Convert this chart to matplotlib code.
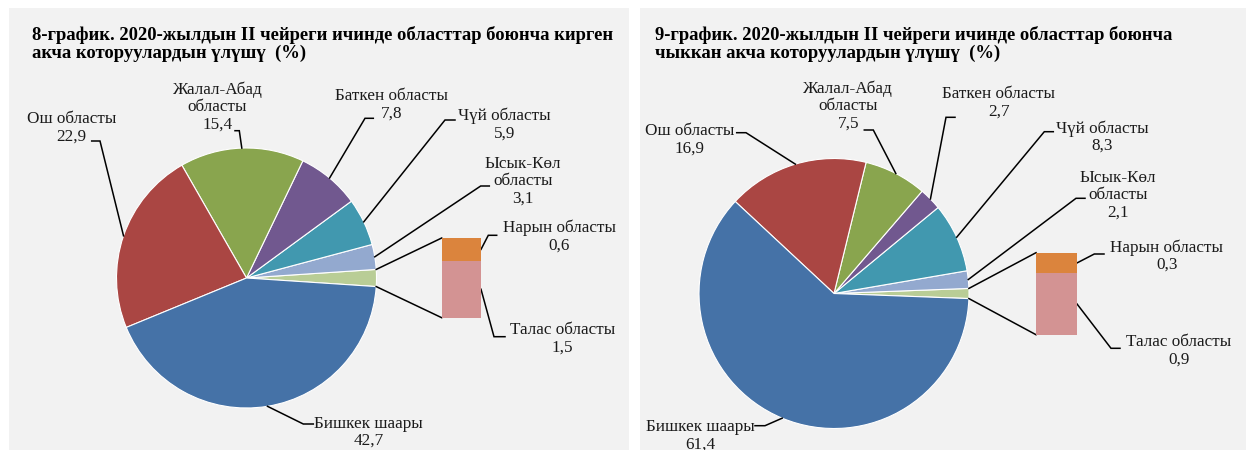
import matplotlib
matplotlib.use("Agg")
import matplotlib.pyplot as plt
import numpy as np
from matplotlib.patches import Rectangle

plt.rcParams['font.family'] = ['Liberation Serif', 'DejaVu Serif']

W, H = 1246, 450

# ---------------- data ----------------
main_names = ["Бишкек шаары", "Ош областы", "Жалал-Абад\nобласты",
              "Баткен областы", "Чүй областы", "Ысык-Көл\nобласты"]
other_names = ["Нарын областы", "Талас областы"]

in_main = [42.7, 22.9, 15.4, 7.8, 5.9, 3.1]
in_other = [0.6, 1.5]
out_main = [61.4, 16.9, 7.5, 2.7, 8.3, 2.1]
out_other = [0.3, 0.9]

titles = ["8-график. 2020-жылдын II чейреги ичинде областтар боюнча кирген\nакча которуулардын үлүшү  (%)",
          "9-график. 2020-жылдын II чейреги ичинде областтар боюнча\nчыккан акча которуулардын үлүшү  (%)"]

main_colors = ["#4572A7", "#AA4643", "#89A54E", "#71588F", "#4198AF", "#93A9CF"]
other_pie_color = "#B9CD96"
other_colors = ["#DB843D", "#D39393"]  # Нарын, Талас

# ---------------- layout (pixels, y from top) ----------------
charts = [
    dict(main=in_main, other=in_other, title=titles[0], title_xy=(32, 26),
         bg=(9, 8, 629, 450), center=(246.5, 278.0), r=130.0,
         bar=(441.7, 238.0, 481.0, 317.7),
         labels=[  # text center, elbow start x, elbow end x, elbow y
             ((368.5, 432.4), 313.3, 303.3, 424.0),
             ((71.3, 127.5), 91.7, 100.0, 141.0),
             ((217.5, 107.2), 235.0, 239.3, 130.7),
             ((391.5, 105.0), 373.3, 365.0, 118.3),
             ((504.5, 124.5), 455.0, 445.0, 120.0),
             ((523.3, 181.3), 489.3, 480.7, 186.0),
         ],
         other_labels=[
             ((559.3, 236.5), 496.7, 488.3, 235.3),
             ((562.7, 339.0), 505.0, 494.0, 336.7),
         ]),
    dict(main=out_main, other=out_other, title=titles[1], title_xy=(655, 26),
         bg=(640, 8, 1246, 450), center=(834.0, 293.5), r=135.0,
         bar=(1036.0, 252.7, 1077.0, 334.7),
         labels=[
             ((700.0, 435.5), 755.0, 765.0, 425.7),
             ((690.0, 139.5), 736.7, 746.0, 132.7),
             ((848.3, 106.0), 864.3, 873.3, 130.0),
             ((999.0, 103.0), 955.0, 946.0, 117.3),
             ((1102.5, 137.0), 1053.3, 1044.3, 131.7),
             ((1118.0, 195.0), 1085.0, 1076.0, 198.3),
         ],
         other_labels=[
             ((1166.8, 256.0), 1104.0, 1094.3, 254.0),
             ((1178.7, 351.0), 1120.0, 1111.0, 348.3),
         ]),
]

LABEL_FS = 12.3
TITLE_FS = 13.4
TXT = "#1a1a1a"


def Y(y):
    return H - y


def fmt(v):
    return f"{v:.1f}".replace(".", ",")


fig = plt.figure(figsize=(W / 100, H / 100), dpi=100, facecolor="white")
ax = fig.add_axes([0, 0, 1, 1])

for ch in charts:
    x0, y0, x1, y1 = ch["bg"]
    ax.add_patch(Rectangle((x0, Y(y1)), x1 - x0, y1 - y0, facecolor="#F2F2F2",
                           edgecolor="none", zorder=0))

    cx, cy = ch["center"]
    r = ch["r"]
    other_sum = sum(ch["other"])
    vals = [other_sum] + ch["main"][::-1]
    cols = [other_pie_color] + main_colors[::-1]
    total = float(np.sum(vals))
    start = -other_sum / total * 180.0
    ax.pie(vals, colors=cols, startangle=start, counterclock=True,
           center=(cx, Y(cy)), radius=r,
           wedgeprops=dict(edgecolor="white", linewidth=0.8), normalize=True)

    # angles (counter-clockwise, degrees) of each wedge
    bounds = start + 360.0 * np.concatenate([[0], np.cumsum(vals) / total])
    mids = (bounds[:-1] + bounds[1:]) / 2.0
    # mids order: other, Ысык-Көл, Чүй, Баткен, Жалал-Абад, Ош, Бишкек
    main_mids = mids[1:][::-1]

    def edge(theta):
        t = np.deg2rad(theta)
        return cx + r * np.cos(t), Y(cy) + r * np.sin(t)

    # labels for the pie slices
    for i, ((tx, ty), ex0, ex1, ey) in enumerate(ch["labels"]):
        ax.text(tx, Y(ty), f"{main_names[i]}\n{fmt(ch['main'][i])}",
                ha="center", va="center", fontsize=LABEL_FS, color=TXT,
                linespacing=1.12, multialignment="center", zorder=5)
        px, py = edge(main_mids[i])
        ax.plot([ex0, ex1, px], [Y(ey), Y(ey), py], color="black", lw=1.1,
                solid_joinstyle="miter", zorder=4)

    # connector lines pie -> bar
    bx0, by0, bx1, by1 = ch["bar"]
    ptop = edge(bounds[1])
    pbot = edge(bounds[0])
    ax.plot([ptop[0], bx0], [ptop[1], Y(by0)], color="black", lw=1.1, zorder=4)
    ax.plot([pbot[0], bx0], [pbot[1], Y(by1)], color="black", lw=1.1, zorder=4)

    # bar of the pie (own axes, scaled by data)
    bax = fig.add_axes([bx0 / W, Y(by1) / H, (bx1 - bx0) / W, (by1 - by0) / H])
    naryn, talas = ch["other"]
    bax.bar([0], [talas], bottom=[0], width=1.0, color=other_colors[1])
    bax.bar([0], [naryn], bottom=[talas], width=1.0, color=other_colors[0])
    bax.set_xlim(-0.5, 0.5)
    bax.set_ylim(0, other_sum)
    bax.set_axis_off()

    # labels for bar segments
    seg_mids = [talas + naryn / 2.0, talas / 2.0]  # Нарын, Талас
    for j, ((tx, ty), ex0, ex1, ey) in enumerate(ch["other_labels"]):
        ax.text(tx, Y(ty), f"{other_names[j]}\n{fmt(ch['other'][j])}",
                ha="center", va="center", fontsize=LABEL_FS, color=TXT,
                linespacing=1.12, multialignment="center", zorder=5)
        py = Y(by1) + (by1 - by0) * seg_mids[j] / other_sum
        ax.plot([ex0, ex1, bx1], [Y(ey), Y(ey), py], color="black", lw=1.1,
                solid_joinstyle="miter", zorder=4)

    tx, ty = ch["title_xy"]
    ax.text(tx, Y(ty), ch["title"], ha="left", va="top", fontsize=TITLE_FS,
            fontweight="bold", color="black", linespacing=1.08, zorder=5)

ax.set_aspect("auto")
ax.set_xlim(0, W)
ax.set_ylim(0, H)
ax.set_axis_off()

fig.savefig("out.png", dpi=100, facecolor="white")
